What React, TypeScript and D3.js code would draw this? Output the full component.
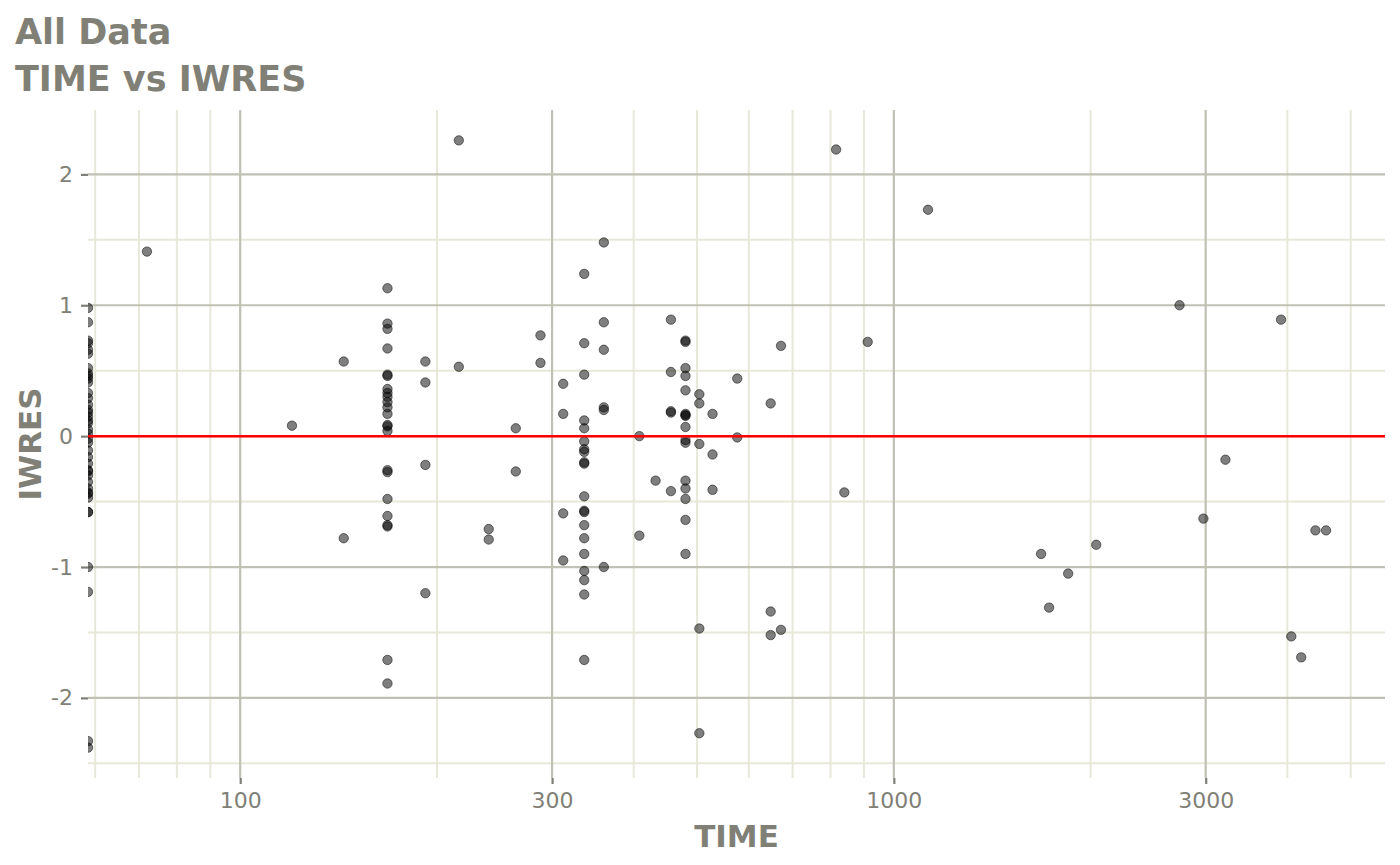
import React, { useRef, useEffect } from 'react';
import * as d3 from 'd3';

// TIME values (0 = pre-dose, drawn at the left edge on a log axis)
const time = [
  0, 0, 0, 0, 0, 0, 0, 0, 0, 0, 0, 0, 0, 0, 0, 0, 0, 0, 0, 0,
  0, 0, 0, 0, 0, 0, 0, 0, 0, 0, 0, 0, 0, 0, 0, 0, 0, 0, 0, 0,
  72, 120, 144, 144,
  168, 168, 168, 168, 168, 168, 168, 168, 168, 168, 168, 168,
  168, 168, 168, 168, 168, 168, 168, 168, 168, 168, 168,
  192, 192, 192, 192, 216, 216, 240, 240, 264, 264, 288, 288,
  312, 312, 312, 312,
  336, 336, 336, 336, 336, 336, 336, 336, 336, 336,
  336, 336, 336, 336, 336, 336, 336, 336, 336, 336,
  360, 360, 360, 360, 360, 360, 408, 408, 432,
  456, 456, 456, 456, 456,
  480, 480, 480, 480, 480, 480, 480, 480, 480, 480, 480, 480, 480, 480, 480, 480,
  504, 504, 504, 504, 504, 528, 528, 528, 576, 576,
  648, 648, 648, 672, 672, 816, 840, 912, 1128,
  1680, 1728, 1848, 2040, 2736, 2976, 3216, 3912, 4056, 4200, 4416, 4584,
];

const iwres = [
  0.98, 0.87, 0.73, 0.71, 0.66, 0.63, 0.52, 0.48, 0.46, 0.44, 0.41, 0.33, 0.29, 0.24, 0.20, 0.18, 0.15, 0.12, 0.10, 0.05,
  -0.02, -0.05, -0.11, -0.16, -0.21, -0.26, -0.27, -0.30, -0.35, -0.40, -0.43, -0.44, -0.47, -0.58, -0.58, -1.00, -1.19, -2.33, -2.38, 0.02,
  1.41, 0.08, 0.57, -0.78,
  1.13, 0.86, 0.82, 0.67, 0.47, 0.46, 0.36, 0.33, 0.30, 0.26, 0.22, 0.17,
  0.085, 0.075, 0.04, -0.26, -0.275, -0.48, -0.61, -0.68, -0.69, -1.71, -1.89,
  0.57, 0.41, -0.22, -1.20, 2.26, 0.53, -0.71, -0.79, 0.06, -0.27, 0.77, 0.56,
  0.40, 0.17, -0.59, -0.95,
  1.24, 0.71, 0.47, 0.12, 0.06, -0.04, -0.10, -0.12, -0.20, -0.21,
  -0.46, -0.57, -0.58, -0.68, -0.78, -0.90, -1.03, -1.10, -1.21, -1.71,
  1.48, 0.87, 0.66, 0.22, 0.20, -1.00, 0.00, -0.76, -0.34,
  0.89, 0.49, 0.19, 0.18, -0.42,
  0.73, 0.72, 0.52, 0.46, 0.35, 0.17, 0.16, 0.155, 0.07, -0.03, -0.05, -0.34, -0.40, -0.48, -0.64, -0.90,
  0.32, 0.25, -0.06, -1.47, -2.27, 0.17, -0.14, -0.41, 0.44, -0.01,
  0.25, -1.34, -1.52, 0.69, -1.48, 2.19, -0.43, 0.72, 1.73,
  -0.90, -1.31, -1.05, -0.83, 1.00, -0.63, -0.18, 0.89, -1.53, -1.69, -0.72, -0.72,
];

const xMajor = [100, 300, 1000, 3000];
const yMajor = [-2, -1, 0, 1, 2];
const yMinor = [-2.5, -1.5, -0.5, 0.5, 1.5, 2.5];

const App: React.FC = () => {
  const svgRef = useRef<SVGSVGElement>(null);

  useEffect(() => {
    if (!svgRef.current) return;
    document.body.style.margin = '0';

    const W = 1400;
    const H = 865;
    const margin = { top: 110, right: 15, bottom: 87, left: 88 };
    const width = W - margin.left - margin.right;
    const height = H - margin.top - margin.bottom;
    const font = '"DejaVu Sans", sans-serif';
    const textColor = '#808077';

    const svg = d3.select(svgRef.current);
    svg.selectAll('*').remove();
    svg.attr('width', W).attr('height', H).style('display', 'block');

    const pts = time.map((t, i) => ({ t, v: iwres[i] }));

    // log scale, 5% expansion like ggplot
    const pos = pts.filter(d => d.t > 0).map(d => Math.log10(d.t));
    const [lx0, lx1] = d3.extent(pos) as [number, number];
    const ex = (lx1 - lx0) * 0.05;
    const x = d3.scaleLog()
      .domain([Math.pow(10, lx0 - ex), Math.pow(10, lx1 + ex)])
      .range([0, width]);

    const [vy0, vy1] = d3.extent(iwres) as [number, number];
    const ey = (vy1 - vy0) * 0.05;
    const y = d3.scaleLinear()
      .domain([vy0 - ey, vy1 + ey])
      .range([height, 0]);

    const g = svg.append('g')
      .attr('transform', `translate(${margin.left},${margin.top})`);

    svg.append('defs').append('clipPath')
      .attr('id', 'panel-clip')
      .append('rect')
      .attr('width', width)
      .attr('height', height);

    // Grid minor
    const xMinor = x.ticks().filter(t => !xMajor.includes(t));
    const [d0, d1] = y.domain();
    g.selectAll('.vminor')
      .data(xMinor)
      .enter()
      .append('line')
      .attr('x1', d => x(d)).attr('x2', d => x(d))
      .attr('y1', 0).attr('y2', height)
      .attr('stroke', '#e8e8da')
      .attr('stroke-width', 2);

    g.selectAll('.hminor')
      .data(yMinor.filter(v => v >= d0 && v <= d1))
      .enter()
      .append('line')
      .attr('x1', 0).attr('x2', width)
      .attr('y1', d => y(d)).attr('y2', d => y(d))
      .attr('stroke', '#e8e8da')
      .attr('stroke-width', 2);

    // Grid major
    g.selectAll('.vmajor')
      .data(xMajor)
      .enter()
      .append('line')
      .attr('x1', d => x(d)).attr('x2', d => x(d))
      .attr('y1', 0).attr('y2', height)
      .attr('stroke', '#c0c0b4')
      .attr('stroke-width', 2.2);

    g.selectAll('.hmajor')
      .data(yMajor)
      .enter()
      .append('line')
      .attr('x1', 0).attr('x2', width)
      .attr('y1', d => y(d)).attr('y2', d => y(d))
      .attr('stroke', '#c0c0b4')
      .attr('stroke-width', 2.2);

    // Points
    g.append('g')
      .attr('clip-path', 'url(#panel-clip)')
      .selectAll('circle')
      .data(pts)
      .enter()
      .append('circle')
      .attr('cx', d => (d.t > 0 ? x(d.t) : 0))
      .attr('cy', d => y(d.v))
      .attr('r', 4.7)
      .attr('fill', 'rgba(0,0,0,0.5)')
      .attr('stroke', 'rgba(0,0,0,0.5)')
      .attr('stroke-width', 1);

    // Reference line at 0
    g.append('line')
      .attr('x1', 0).attr('x2', width)
      .attr('y1', y(0)).attr('y2', y(0))
      .attr('stroke', '#ff0000')
      .attr('stroke-width', 2.5);

    // Axes (plain hyphen for negatives, as in the original)
    const fmt = (d: d3.NumberValue) => String(d);
    const xAxis = g.append('g')
      .attr('transform', `translate(0,${height})`)
      .call(d3.axisBottom(x).tickValues(xMajor).tickFormat(fmt).tickSize(6).tickPadding(8));
    const yAxis = g.append('g')
      .call(d3.axisLeft(y).tickValues(yMajor).tickFormat(fmt).tickSize(7).tickPadding(8));

    [xAxis, yAxis].forEach(a => {
      a.select('.domain').remove();
      a.selectAll('.tick line').attr('stroke', '#7f7f7a').attr('stroke-width', 2.2);
      a.selectAll('.tick text')
        .attr('fill', textColor)
        .style('font-family', font)
        .style('font-size', '22px');
    });

    // Axis titles
    svg.append('text')
      .attr('x', margin.left + width / 2)
      .attr('y', 847)
      .attr('text-anchor', 'middle')
      .attr('fill', textColor)
      .style('font-family', font)
      .style('font-weight', 'bold')
      .style('font-size', '31px')
      .text('TIME');

    svg.append('text')
      .attr('transform', `translate(41,${margin.top + height / 2}) rotate(-90)`)
      .attr('text-anchor', 'middle')
      .attr('fill', textColor)
      .style('font-family', font)
      .style('font-weight', 'bold')
      .style('font-size', '31px')
      .text('IWRES');

    // Title
    const title = svg.append('g')
      .attr('fill', textColor)
      .style('font-family', font)
      .style('font-weight', 'bold')
      .style('font-size', '35px');
    title.append('text').attr('x', 15).attr('y', 44).text('All Data');
    title.append('text').attr('x', 15).attr('y', 91).text('TIME vs IWRES');
  }, []);

  return <svg ref={svgRef} />;
};

export default App;
